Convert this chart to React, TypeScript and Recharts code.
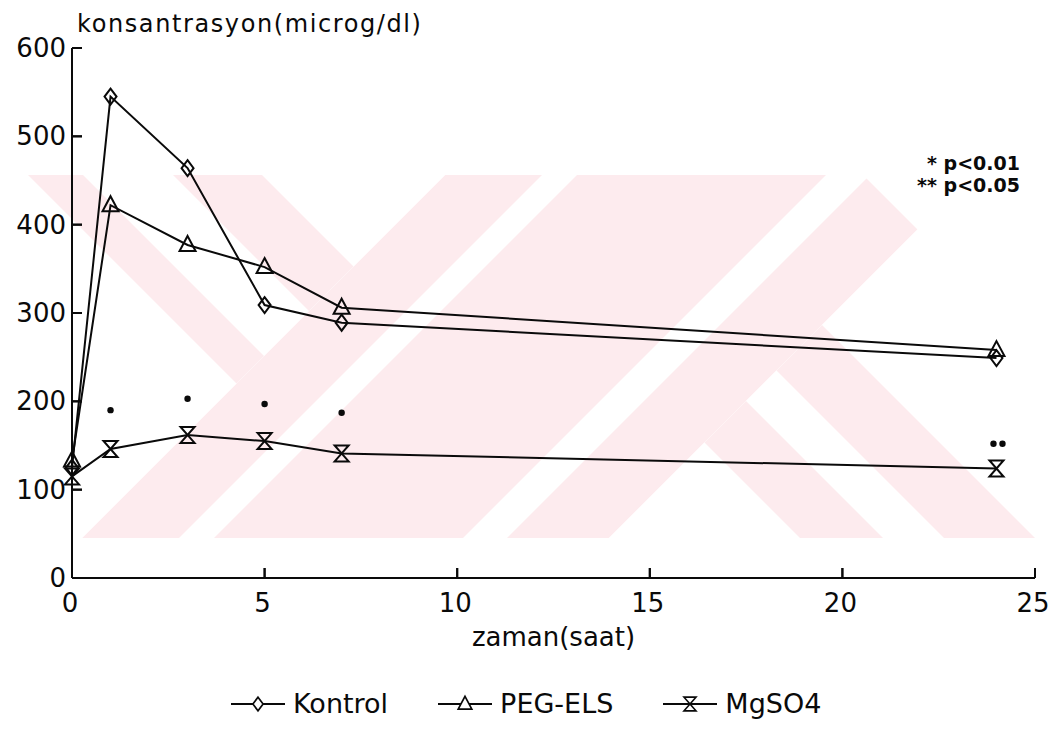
import React from 'react';
import { ComposedChart, Line, Scatter, XAxis, YAxis, Legend } from 'recharts';

// ---- data ----
const TIMES = [0, 1, 3, 5, 7, 24];
const KONTROL = [125, 545, 464, 309, 289, 249];
const PEG_ELS = [133, 422, 377, 352, 306, 258];
const MGSO4 = [115, 146, 162, 155, 141, 124];
const SIG_Y = [null, 190, 203, 197, 187, 152];
const SIG_MARK = ['', '*', '*', '*', '*', '**'];

const X_TICKS = [0, 5, 10, 15, 20, 25];
const Y_TICKS = [0, 100, 200, 300, 400, 500, 600];

const Y_TITLE = 'konsantrasyon(microg/dl)';
const X_TITLE = 'zaman(saat)';
const NOTE_1 = ['*', 'p<0.01'];
const NOTE_2 = ['**', 'p<0.05'];

const SERIES = [
  { key: 'kontrol', name: 'Kontrol', values: KONTROL, marker: 'diamond' },
  { key: 'peg', name: 'PEG-ELS', values: PEG_ELS, marker: 'triangle' },
  { key: 'mg', name: 'MgSO4', values: MGSO4, marker: 'hourglass' },
];

const data = TIMES.map((t, i) => ({
  t,
  kontrol: KONTROL[i],
  peg: PEG_ELS[i],
  mg: MGSO4[i],
  sig: SIG_Y[i],
  mark: SIG_MARK[i],
}));

const FONT = '"DejaVu Sans", Verdana, sans-serif';
const INK = '#0a0a0a';
const PINK = '#fdebee';

// ---- background watermark (scanned-page decoration, not data) ----
const WM_BAND = { x: 28, y: 175, w: 1007, h: 363 };
const WM_LEFT_BACK = [[-147, -92], [-2, 87]]; // "\" stripes, x - y ranges
const WM_MID_FWD = [[620, 717], [752, 1001], [1045, 1147]]; // "/" stripes, x + y ranges
const WM_RIGHT_BACK = [[262, 345], [406, 497]]; // "\" stripes, x - y ranges

const backStripe = (d1: number, d2: number) => `${d1},0 ${d2},0 ${744 + d2},744 ${744 + d1},744`;
const fwdStripe = (c1: number, c2: number) => `${c1},0 ${c2},0 ${c2 - 744},744 ${c1 - 744},744`;

const Watermark = () => (
  <svg width={1056} height={744} style={{ position: 'absolute', left: 0, top: 0 }}>
    <defs>
      <clipPath id="wmBand">
        <rect x={WM_BAND.x} y={WM_BAND.y} width={WM_BAND.w} height={WM_BAND.h} />
      </clipPath>
      <clipPath id="wmL">
        <polygon points="-800,-800 1420,-800 -800,1420" />
      </clipPath>
      <clipPath id="wmM">
        <polygon points="-400,1020 654,-34 917.5,229.5 -400,1547" />
      </clipPath>
      <clipPath id="wmR">
        <polygon points="1147,0 3000,0 3000,3000 0,3000 0,1147" />
      </clipPath>
    </defs>
    <g clipPath="url(#wmBand)" fill={PINK}>
      <g clipPath="url(#wmL)">
        {WM_LEFT_BACK.map(([a, b], i) => <polygon key={i} points={backStripe(a, b)} />)}
      </g>
      <g clipPath="url(#wmM)">
        {WM_MID_FWD.map(([a, b], i) => <polygon key={i} points={fwdStripe(a, b)} />)}
      </g>
      <g clipPath="url(#wmR)">
        {WM_RIGHT_BACK.map(([a, b], i) => <polygon key={i} points={backStripe(a, b)} />)}
      </g>
    </g>
  </svg>
);

function markerPath(kind: string) {
  if (kind === 'diamond') return 'M0,-8 L6,0 L0,8 L-6,0 Z';
  if (kind === 'triangle') return 'M0,-9 L8,6 L-8,6 Z';
  return 'M-7,-8 L7,-8 L-7,8 L7,8 Z';
}

function makeDot(kind: string) {
  return (props: any) => {
    const { cx, cy, index } = props;
    if (cx == null || cy == null || isNaN(cx) || isNaN(cy)) return <g key={`n${index}`} />;
    return (
      <path
        key={`${kind}${index}`}
        d={markerPath(kind)}
        transform={`translate(${cx},${cy})`}
        fill="none"
        stroke={INK}
        strokeWidth={2}
        strokeLinejoin="miter"
      />
    );
  };
}

const SigShape = (props: any) => {
  const { cx, cy, payload } = props;
  if (!payload || payload.sig == null || cx == null || cy == null || isNaN(cy)) return <g />;
  if (payload.mark === '**') {
    return (
      <g>
        <circle cx={cx - 3} cy={cy} r={3.2} fill={INK} />
        <circle cx={cx + 6} cy={cy} r={3.2} fill={INK} />
      </g>
    );
  }
  return <circle cx={cx} cy={cy} r={3.2} fill={INK} />;
};

// tick label sits tickMargin (16) left of the inward tick end; the tick runs x+6 .. x+16
const YTick = (props: any) => {
  const { x, y, payload } = props;
  return (
    <g>
      {payload.value !== 0 && <line x1={x + 6} y1={y} x2={x + 16} y2={y} stroke={INK} strokeWidth={2} />}
      <text x={x} y={y + 9} textAnchor="end" fontFamily={FONT} fontSize={26} fill={INK}>
        {payload.value}
      </text>
    </g>
  );
};

// y here is the axis line (tick end + tickMargin 10)
const XTick = (props: any) => {
  const { x, y, payload } = props;
  return (
    <g>
      {payload.value !== 0 && <line x1={x} y1={y} x2={x} y2={y - 10} stroke={INK} strokeWidth={2} />}
      <text x={x - 2} y={y + 34} textAnchor="middle" fontFamily={FONT} fontSize={26} fill={INK}>
        {payload.value}
      </text>
    </g>
  );
};

const LegendContent = () => (
  <div style={{ display: 'flex', alignItems: 'center', fontFamily: FONT, fontSize: 27, color: INK }}>
    {SERIES.map((s, i) => (
      <div key={s.key} style={{ display: 'flex', alignItems: 'center', marginRight: i < SERIES.length - 1 ? 49 : 0 }}>
        <svg width={56} height={24} style={{ marginRight: 7 }}>
          <line x1={1} y1={12} x2={55} y2={12} stroke={INK} strokeWidth={2} />
          <path d={markerPath(s.marker)} transform="translate(28,12) scale(0.85)" fill="#fff" stroke={INK} strokeWidth={2} />
        </svg>
        <span>{s.name}</span>
      </div>
    ))}
  </div>
);

const Notes = () => (
  <div
    style={{
      position: 'absolute',
      left: 880,
      top: 152,
      width: 140,
      fontFamily: FONT,
      fontWeight: 'bold',
      fontSize: 19,
      color: INK,
      textAlign: 'right',
      lineHeight: '22px',
      pointerEvents: 'none',
    }}
  >
    <div>{NOTE_1[0]} {NOTE_1[1]}</div>
    <div>{NOTE_2[0]} {NOTE_2[1]}</div>
  </div>
);

export default function App() {
  return (
    <div style={{ position: 'absolute', left: 0, top: 0, width: 1056, height: 744, background: '#fff' }}>
      <Watermark />
      <ComposedChart
        width={1056}
        height={744}
        data={data}
        margin={{ top: 48, right: 21, left: 0, bottom: 76 }}
      >
        <XAxis
          dataKey="t"
          type="number"
          domain={[0, 25]}
          ticks={X_TICKS}
          interval={0}
          height={90}
          tickSize={-10}
          tickMargin={10}
          tickLine={{ stroke: INK, strokeWidth: 2 }}
          axisLine={{ stroke: INK, strokeWidth: 2 }}
          tick={<XTick />}
          label={(p: any) => {
            const vb = p.viewBox || {};
            return (
              <text x={vb.x + vb.width / 2} y={vb.y + 68} textAnchor="middle" fontFamily={FONT} fontSize={26} fill={INK}>
                {X_TITLE}
              </text>
            );
          }}
        />
        <YAxis
          type="number"
          domain={[0, 600]}
          ticks={Y_TICKS}
          interval={0}
          width={72}
          tickSize={-10}
          tickMargin={16}
          tickLine={{ stroke: INK, strokeWidth: 2 }}
          axisLine={{ stroke: INK, strokeWidth: 2 }}
          tick={<YTick />}
          label={(p: any) => {
            const vb = p.viewBox || {};
            return (
              <text x={vb.x + vb.width + 5} y={vb.y - 16} fontFamily={FONT} fontSize={24} letterSpacing={1.6} fill={INK}>
                {Y_TITLE}
              </text>
            );
          }}
        />
        <Legend
          layout="horizontal"
          verticalAlign="middle"
          align="center"
          wrapperStyle={{ position: 'absolute', left: 230, top: 688, width: 'auto' }}
          content={<LegendContent />}
        />
        {SERIES.map((s) => (
          <Line
            key={s.key}
            type="linear"
            dataKey={s.key}
            name={s.name}
            stroke={INK}
            strokeWidth={2}
            dot={makeDot(s.marker)}
            activeDot={false}
            isAnimationActive={false}
          />
        ))}
        <Scatter dataKey="sig" name="p" shape={<SigShape />} legendType="none" isAnimationActive={false} />
      </ComposedChart>
      <Notes />
    </div>
  );
}
